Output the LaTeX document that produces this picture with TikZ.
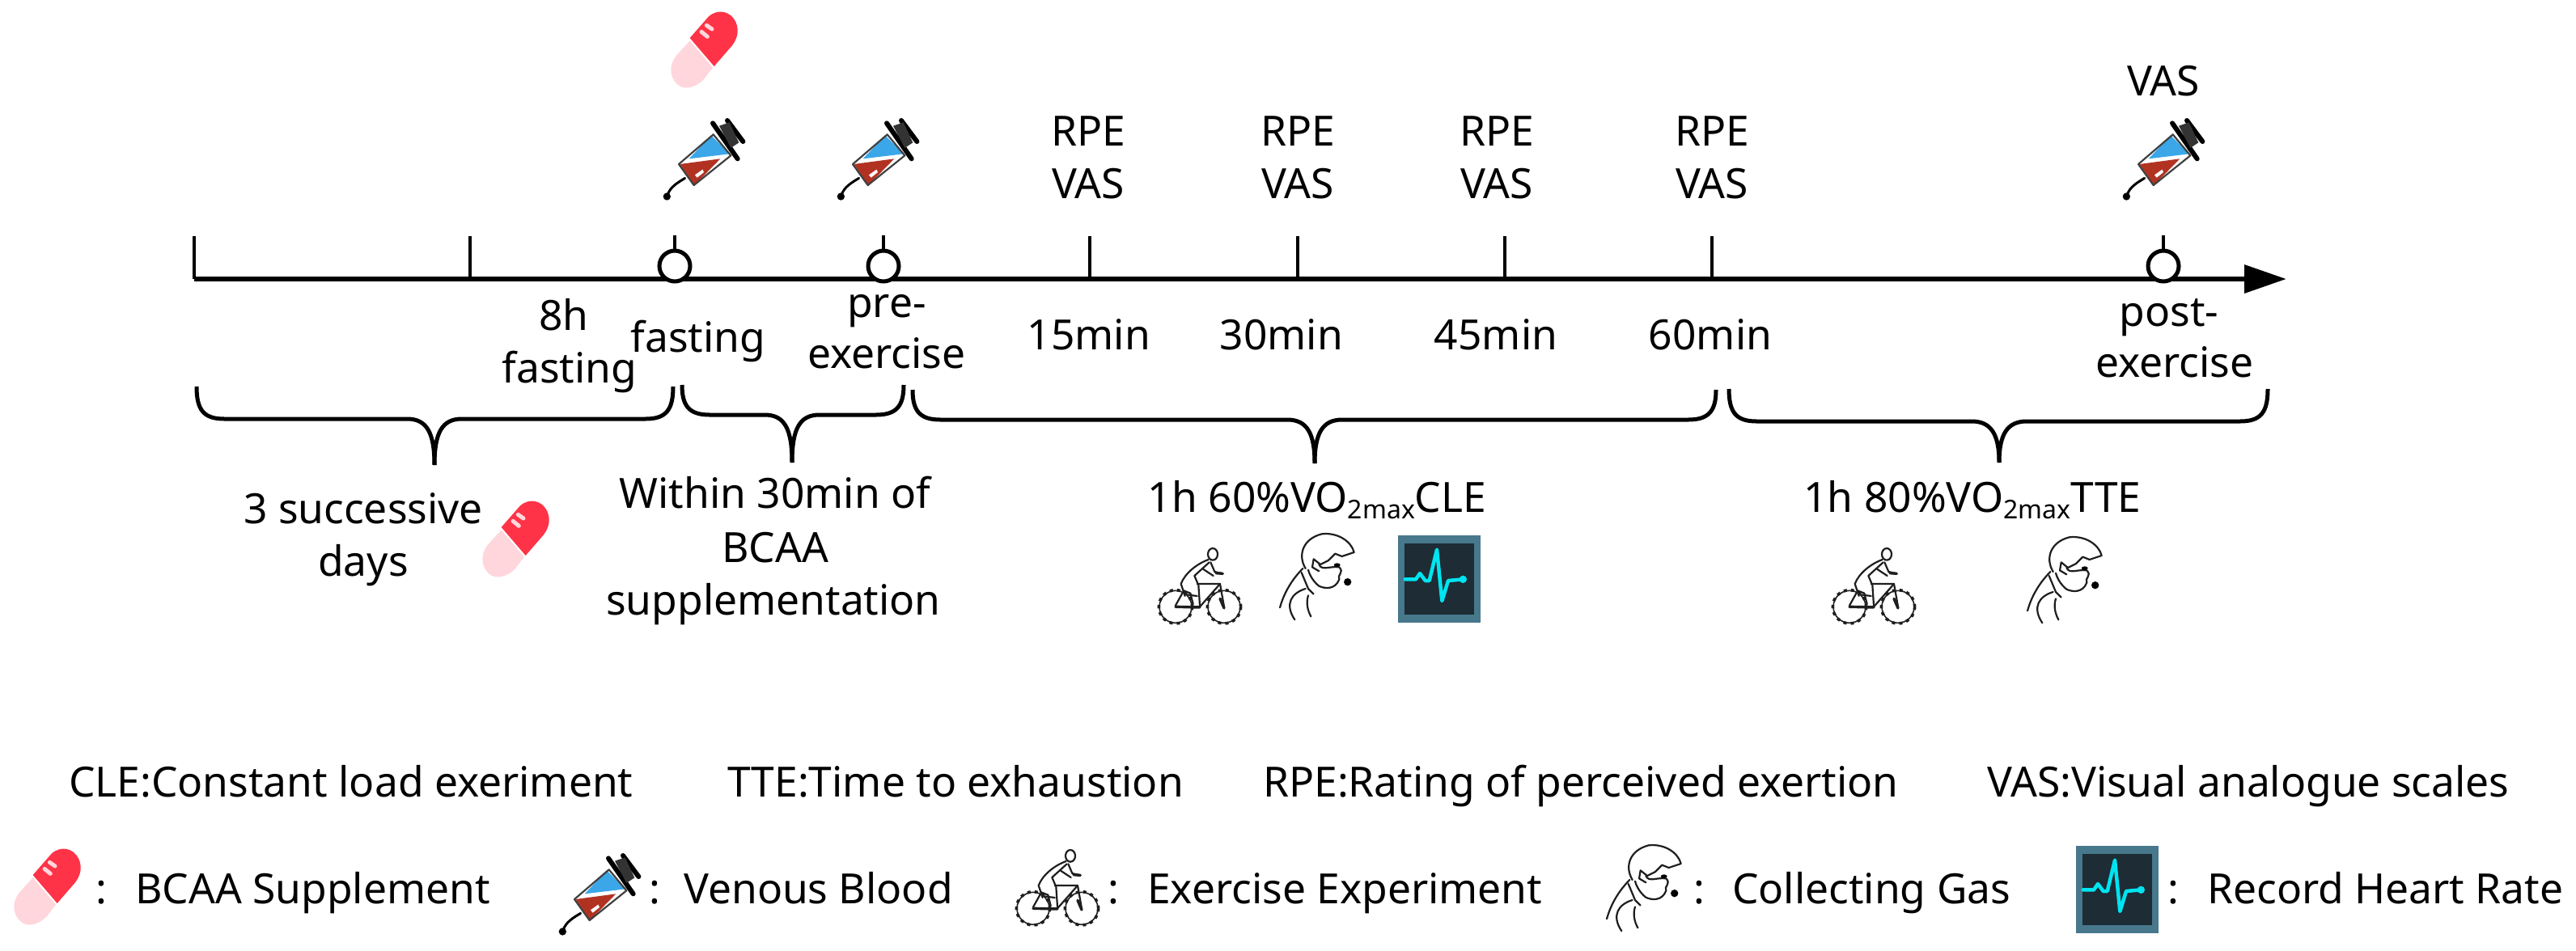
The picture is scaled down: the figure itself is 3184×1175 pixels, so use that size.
\documentclass[tikz,border=0pt]{standalone}
\usepackage{fontspec}
\setmainfont{Noto Sans}
\usetikzlibrary{arrows.meta}
\definecolor{pillred}{HTML}{FF3347}
\definecolor{pillpink}{HTML}{FFD6DC}
\definecolor{synblue}{HTML}{3BA7E8}
\definecolor{synred}{HTML}{B23222}
\definecolor{monedge}{HTML}{47788C}
\definecolor{mondark}{HTML}{1D2C35}
\definecolor{ecg}{HTML}{00E4F0}
\definecolor{inkline}{HTML}{1E1E1E}
\newcommand{\sizedtext}{\fontsize{51.5}{51.5}\selectfont}
\newcommand{\subtext}[1]{\raisebox{-8pt}{\fontsize{32}{32}\selectfont #1}}
\tikzset{
  lbl/.style={inner sep=0pt,anchor=base,font=\sizedtext,text=black},
  lblw/.style={inner sep=0pt,anchor=base west,font=\sizedtext,text=black},
  axisline/.style={line width=6.5pt,black},
  tickline/.style={line width=4.5pt,black},
  openmark/.style={circle,draw=black,line width=5pt,fill=white,minimum size=38pt,inner sep=0pt},
  bracket/.style={line width=5pt,black,line join=round},
  iconline/.style={line width=2.2pt,inkline,line cap=round,line join=round}
}
% brace: xleft, xright, xtip, ytop, yh, ytip
\newcommand{\curlybrace}[6]{%
  \draw[bracket] (#1,#4) .. controls (#1,{#5-12}) and ({#1+8},#5) .. ({#1+34},#5)
    -- ({#3-34},#5) .. controls ({#3-10},#5) and (#3,{#5+16}) .. (#3,#6);
  \draw[bracket] (#2,#4) .. controls (#2,{#5-12}) and ({#2-8},#5) .. ({#2-34},#5)
    -- ({#3+34},#5) .. controls ({#3+10},#5) and (#3,{#5+16}) .. (#3,#6);
}
\newcommand{\syringeicon}[2]{%
  \begin{scope}[shift={(#1,#2)},scale=0.3333,shift={(-405,-592)}]
    \fill[synblue] (432,503) -- (500,572) -- (350,590) -- cycle;
    \fill[synred] (316,610) -- (466,590) -- (370,688) -- cycle;
    \fill[white] (372,650) -- (400,630) -- (405,640) -- (380,660) -- cycle;
    \draw[line width=2.2pt,inkline!85,line join=round] (312,610) -- (440,500) -- (505,578) -- (368,688) -- cycle;
    \draw[line width=6pt,black,line cap=round] (438,458) -- (530,590);
    \draw[line width=6pt,black,line cap=round] (492,448) -- (550,526);
    \fill[black!80] (462,468) -- (500,455) -- (535,530) -- (505,550) -- cycle;
    \draw[line width=3pt,black,line cap=round] (335,662) .. controls (305,680) and (280,695) .. (270,725);
    \fill[black] (268,730) circle (14);
  \end{scope}}
\newcommand{\pillicon}[2]{%
  \begin{scope}[shift={(#1,#2)},scale=0.3333,shift={(-267,-185)}]
    \fill[pillpink] (215,150) -- (165,205) .. controls (130,250) and (145,300) .. (180,320)
      .. controls (215,335) and (250,310) .. (265,295) -- (300,250) -- cycle;
    \fill[pillred] (215,140) -- (285,60) .. controls (320,30) and (365,40) .. (385,80)
      .. controls (400,115) and (390,145) .. (370,170) -- (305,245) -- cycle;
    \draw[line width=5pt,pillpink,line cap=round] (277,93) -- (297,107);
    \draw[line width=5pt,pillpink,line cap=round] (258,117) -- (280,135);
  \end{scope}}
\newcommand{\bikeicon}[2]{%
  \begin{scope}[shift={(#1,#2)},scale=0.3333,shift={(-250,-260)}]
    \draw[line width=1.6pt,inkline] (160,330) circle (60);
    \draw[line width=1.6pt,inkline] (340,330) circle (60);
    \draw[line width=3.6pt,inkline,dash pattern=on 4pt off 5pt] (160,330) circle (62);
    \draw[line width=3.6pt,inkline,dash pattern=on 4pt off 5pt] (340,330) circle (62);
    \draw[iconline] (298,135) ellipse (18 and 22);
    \draw[iconline] (282,155) .. controls (240,170) and (195,205) .. (180,245) -- (195,290);
    \draw[iconline] (285,165) -- (230,215) -- (245,250) -- (250,325);
    \draw[iconline] (290,165) -- (305,200) -- (335,207);
    \draw[iconline] (262,190) -- (300,215);
    \draw[iconline] (240,245) -- (325,245) -- (340,330);
    \draw[iconline] (160,330) -- (250,330) -- (325,245);
    \draw[iconline] (190,270) -- (215,280) -- (225,320);
    \draw[iconline] (185,280) -- (160,325);
    \draw[iconline] (200,285) -- (240,290);
    \draw[line width=3.4pt,inkline,line cap=round] (160,330) -- (250,332);
    \draw[line width=3.4pt,inkline,line cap=round] (325,300) -- (340,335);
    \draw[line width=3.4pt,inkline,line cap=round] (310,205) -- (335,207);
  \end{scope}}
\newcommand{\faceicon}[2]{%
  \begin{scope}[shift={(#1,#2)},scale=0.3333,shift={(-680,-220)}]
    \draw[iconline] (640,190) .. controls (610,140) and (630,80) .. (700,62)
      .. controls (760,55) and (810,90) .. (820,130) -- (775,145) -- (750,135)
      -- (725,160) -- (695,175) -- (670,155) -- (665,185) -- (690,200);
    \draw[iconline] (690,175) .. controls (700,200) and (730,180) .. (765,185)
      .. controls (785,205) and (755,215) .. (765,230) .. controls (750,270) and (710,265) .. (690,255)
      .. controls (670,240) and (655,215) .. (650,195);
    \draw[iconline] (630,190) .. controls (590,230) and (560,280) .. (545,335);
    \draw[iconline] (625,205) -- (650,265) -- (670,285);
    \draw[iconline] (640,265) .. controls (590,280) and (560,320) .. (600,380);
    \draw[iconline] (650,290) .. controls (640,320) and (650,350) .. (660,368);
    \fill[black] (757,177) ellipse (12 and 7);
    \fill[black] (796,240) circle (14);
  \end{scope}}
\newcommand{\monitoricon}[2]{%
  \begin{scope}[shift={(#1,#2)},scale=0.3333,shift={(-1137,-229)}]
    \fill[monedge] (985,68) rectangle (1290,390);
    \fill[mondark] (1008,98) rectangle (1265,360);
    \draw[line width=4.5pt,ecg,line join=round,line cap=round] (1010,230) -- (1050,230) -- (1065,208)
      -- (1085,235) -- (1100,235) -- (1128,120) -- (1147,310) -- (1170,235) -- (1225,230);
    \fill[ecg] (1225,230) circle (14);
  \end{scope}}
\begin{document}
\begin{tikzpicture}[x=1pt,y=-1pt]
\useasboundingbox (0,0) rectangle (3184,1175);
% axis
\coordinate (axstart) at (240,345);
\coordinate (axend) at (2826,345);
\draw[axisline,-{Triangle[length=52pt,width=34pt]}] (axstart) -- (axend);
% plain ticks
\foreach \nm/\xx in {ta/240,tb/581,tc/1347,td/1604,te/1860,tf/2116}{
  \coordinate (\nm top) at (\xx,292);
  \coordinate (\nm base) at (\xx,345);
  \draw[tickline] (\nm top) -- (\nm base);
}
% open-circle ticks
\foreach \nm/\xx in {ca/834,cb/1092,cc/2674}{
  \coordinate (\nm top) at (\xx,291);
  \node[openmark] (\nm) at (\xx,329) {};
  \draw[tickline] (\nm top) -- (\nm.north);
}
% labels above
\foreach \nm/\xx in {a/1345,b/1604,c/1850,d/2116}{
  \node[lbl] (rpe\nm) at (\xx,180) {RPE};
  \node[lbl] (vas\nm) at (\xx,245) {VAS};
}
\node[lbl] (vaspost) at (2674,118) {VAS};
% labels below
\node[lbl] (m15) at (1346,432) {15min};
\node[lbl] (m30) at (1584,432) {30min};
\node[lbl] (m45) at (1849,432) {45min};
\node[lbl] (m60) at (2114,432) {60min};
\node[lbl] (eight) at (697,408) {8h};
\node[lbl] (fastb) at (704,473) {fasting};
\node[lbl] (fastc) at (863,435) {fasting};
\node[lbl] (prea) at (1096,392) {pre-};
\node[lbl] (preb) at (1096,455) {exercise};
\node[lbl] (posta) at (2681,403) {post-};
\node[lbl] (postb) at (2688,466) {exercise};
% braces
\curlybrace{243}{832}{537}{478}{518}{575}
\curlybrace{843}{1117}{979}{476}{513}{572}
\curlybrace{1128}{2121}{1625}{482}{519}{573}
\curlybrace{2137}{2803}{2471}{481}{521}{572}
% brace labels
\node[lbl] (succa) at (449,647) {3 successive};
\node[lbl] (succb) at (449,712) {days};
\node[lbl] (wita) at (958,628) {Within 30min of};
\node[lbl] (witb) at (958,695) {BCAA};
\node[lbl] (witc) at (956,760) {supplementation};
\node[lbl] (clehead) at (1628,633) {1h 60\%VO\subtext{2max}CLE};
\node[lbl] (ttehead) at (2438,633) {1h 80\%VO\subtext{2max}TTE};
% icons
\pillicon{870}{62}
\syringeicon{870}{197}
\syringeicon{1085}{197}
\syringeicon{2674}{197}
\pillicon{637}{667}
\bikeicon{1483}{727}
\faceicon{1627}{713}
\monitoricon{1779}{716}
\bikeicon{2316}{727}
\faceicon{2551}{717}
% legend line 1
\node[lblw] (lgcle) at (85,985) {CLE:Constant load exeriment};
\node[lblw] (lgtte) at (899,985) {TTE:Time to exhaustion};
\node[lblw] (lgrpe) at (1561,985) {RPE:Rating of perceived exertion};
\node[lblw] (lgvas) at (2456,985) {VAS:Visual analogue scales};
% legend line 2
\pillicon{58}{1097}
\node[lblw] (lgca) at (118,1117) {:};
\node[lblw] (lgbcaa) at (167,1117) {BCAA Supplement};
\syringeicon{741}{1106}
\node[lblw] (lgcb) at (802,1117) {:};
\node[lblw] (lgven) at (845,1117) {Venous Blood};
\bikeicon{1307}{1100}
\node[lblw] (lgcc) at (1369,1117) {:};
\node[lblw] (lgexe) at (1418,1117) {Exercise Experiment};
\faceicon{2031}{1098}
\node[lblw] (lgcd) at (2093,1117) {:};
\node[lblw] (lggas) at (2141,1117) {Collecting Gas};
\monitoricon{2617}{1100}
\node[lblw] (lgce) at (2679,1117) {:};
\node[lblw] (lgrec) at (2728,1117) {Record Heart Rate};
\end{tikzpicture}
\end{document}
